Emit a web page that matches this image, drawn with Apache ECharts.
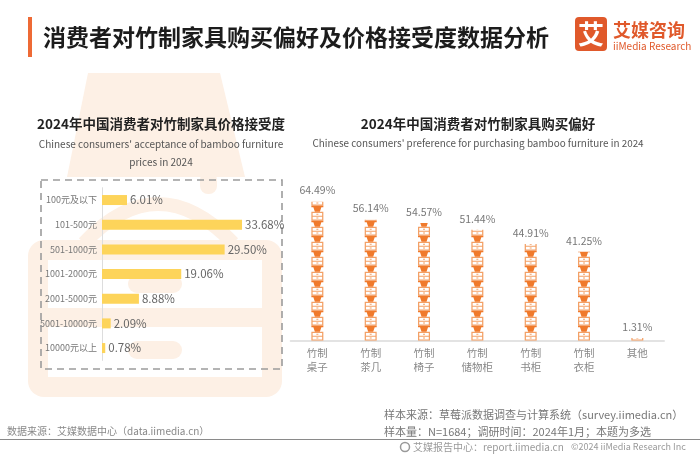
<!DOCTYPE html>
<html><head><meta charset="utf-8">
<script src="https://cdn.jsdelivr.net/npm/echarts@6/dist/echarts.min.js"></script>
<style>html,body{margin:0;padding:0;background:#fff}#c{width:700px;height:455px}</style>
</head><body><div id="c"></div>
<script>
const priceCategories = ['100元及以下','101-500元','501-1000元','1001-2000元','2001-5000元','5001-10000元','10000元以上'];
const priceValues = [6.01, 33.68, 29.50, 19.06, 8.88, 2.09, 0.78];
const furnitureCategories = ['竹制\n桌子','竹制\n茶几','竹制\n椅子','竹制\n储物柜','竹制\n书柜','竹制\n衣柜','其他'];
const furnitureValues = [64.49, 56.14, 54.57, 51.44, 44.91, 41.25, 1.31];

const FONT = '"Noto Sans CJK SC", "Noto Sans", sans-serif';
const peach = '#fdf0e5';
const pct = p => Number(p.value).toFixed(2) + '%';
const Y_MAX = 83.53;

const filledPath = 'path://M2,0L26,0L26,3L22,3L19,12L9,12L6,3L2,3Z M2,29.98L2.02,29.98L2.02,30L2,30Z';
const boxPath = 'path://M2,12L26,12L26,30L2,30Z M4.5,14.5L4.5,20L23.5,20L23.5,14.5Z M4.5,22L4.5,27.5L23.5,27.5L23.5,22Z M12,16.3L16,16.3L16,18.2L12,18.2Z M12,23.8L16,23.8L16,25.7L12,25.7Z M2,0L2.02,0L2.02,0.02L2,0.02Z';

function txt(text, x, y, size, color, opts) {
  opts = opts || {};
  return {type: 'text', z: 5, style: {text: text, x: x, y: y, fill: color,
    font: (opts.bold ? 'bold ' : '') + size + 'px ' + FONT,
    textAlign: opts.align || 'left', textVerticalAlign: 'middle'}};
}

const chart = echarts.init(document.getElementById('c'), null, {renderer: 'canvas'});
chart.setOption({
  backgroundColor: '#fff',
  animation: false,
  textStyle: {fontFamily: FONT},
  graphic: [
    // decorative background
    {type: 'polygon', z: 0, shape: {points: [[88,73],[220,73],[245,177],[67,177]]}, style: {fill: peach}},
    {type: 'rect', z: 0, shape: {x: 200, y: 172, width: 17, height: 22, r: 8}, style: {fill: peach}},
    {type: 'bezierCurve', z: 0, shape: {x1: 84, y1: 243, x2: 233, y2: 243, cpx1: 158, cpy1: 165}, style: {fill: null, stroke: peach, lineWidth: 14}},
    {type: 'rect', z: 0, shape: {x: 28, y: 240, width: 254, height: 157, r: 16}, style: {fill: peach}},
    {type: 'rect', z: 0, shape: {x: 48, y: 260, width: 214, height: 117}, style: {fill: '#fff'}},
    {type: 'rect', z: 0, shape: {x: 48, y: 308, width: 214, height: 19}, style: {fill: peach}},
    {type: 'rect', z: 0, shape: {x: 128, y: 275, width: 54, height: 18, r: 9}, style: {fill: peach}},
    {type: 'rect', z: 0, shape: {x: 128, y: 341, width: 54, height: 18, r: 9}, style: {fill: peach}},
    {type: 'rect', z: 1, shape: {x: 41, y: 180, width: 241, height: 189}, style: {fill: null, stroke: '#9c9c9c', lineWidth: 1.6, lineDash: [7, 5]}},
    // header
    {type: 'rect', z: 5, shape: {x: 28, y: 17, width: 4, height: 40}, style: {fill: '#ee6a35'}},
    txt('消费者对竹制家具购买偏好及价格接受度数据分析', 43, 37, 23, '#1c1c1c', {bold: true}),
    {type: 'rect', z: 5, shape: {x: 575, y: 17, width: 32, height: 34, r: 4}, style: {fill: '#e0592b'}},
    txt('艾', 591, 34, 26, '#fff', {bold: true, align: 'center'}),
    txt('艾媒咨询', 613, 30, 18, '#e0592b', {bold: true}),
    txt('iiMedia Research', 613, 46, 10, '#e0592b'),
    // chart titles
    txt('2024年中国消费者对竹制家具价格接受度', 161, 124, 13.5, '#222', {bold: true, align: 'center'}),
    txt("Chinese consumers' acceptance of bamboo furniture", 161, 144, 10, '#555', {align: 'center'}),
    txt('prices in 2024', 161, 162, 10, '#555', {align: 'center'}),
    txt('2024年中国消费者对竹制家具购买偏好', 478, 124, 13.5, '#222', {bold: true, align: 'center'}),
    txt("Chinese consumers' preference for purchasing bamboo furniture in 2024", 478, 143, 9.9, '#555', {align: 'center'}),
    // footer
    txt('数据来源：艾媒数据中心（data.iimedia.cn）', 7, 431, 10, '#888'),
    txt('样本来源：草莓派数据调查与计算系统（survey.iimedia.cn）', 384, 415, 11, '#777'),
    txt('样本量：N=1684；调研时间：2024年1月；本题为多选', 384, 432, 11, '#777'),
    {type: 'line', z: 5, shape: {x1: 0, y1: 439.5, x2: 700, y2: 439.5}, style: {stroke: '#8a8a8a', lineWidth: 1}},
    {type: 'circle', z: 5, shape: {cx: 405, cy: 447, r: 4.5}, style: {fill: null, stroke: '#999', lineWidth: 1.5}},
    txt('艾媒报告中心：report.iimedia.cn', 413, 447, 10, '#999'),
    txt('©2024 iiMedia Research Inc', 571, 447, 9, '#999')
  ],
  grid: [
    {left: 102, top: 187.7, width: 166.3, height: 172.7},
    {left: 290.7, top: 160.7, width: 373.3, height: 180}
  ],
  xAxis: [
    {gridIndex: 0, type: 'value', min: 0, max: 40, show: false},
    {gridIndex: 1, type: 'category', data: furnitureCategories,
     axisLine: {lineStyle: {color: '#e3e3e3', width: 2}}, axisTick: {show: false},
     axisLabel: {color: '#888', fontSize: 10.5, lineHeight: 13.5, margin: 6, interval: 0}}
  ],
  yAxis: [
    {gridIndex: 0, type: 'category', data: priceCategories, inverse: true,
     axisLine: {lineStyle: {color: '#ddd', width: 1}}, axisTick: {show: false},
     axisLabel: {color: '#777', fontSize: 9, margin: 5}},
    {gridIndex: 1, type: 'value', min: 0, max: Y_MAX, show: false, splitLine: {show: false}}
  ],
  series: [
    {type: 'bar', xAxisIndex: 0, yAxisIndex: 0, data: priceValues, barWidth: 10, z: 3,
     itemStyle: {color: '#fdd45a'},
     label: {show: true, position: 'right', distance: 3, color: '#666', fontSize: 11.5, formatter: pct}},
    {type: 'pictorialBar', xAxisIndex: 1, yAxisIndex: 1, data: furnitureValues, z: 3,
     symbol: boxPath, symbolSize: [12, 15], symbolRepeat: true, symbolClip: true,
     symbolBoundingData: Y_MAX, symbolMargin: 0, itemStyle: {color: '#f3a066'}},
    {type: 'pictorialBar', xAxisIndex: 1, yAxisIndex: 1, data: furnitureValues, z: 4,
     symbol: filledPath, symbolSize: [12, 15], symbolRepeat: true, symbolClip: true,
     symbolBoundingData: Y_MAX, symbolMargin: 0, itemStyle: {color: '#f07a2c'}},
    {type: 'bar', xAxisIndex: 1, yAxisIndex: 1, data: furnitureValues, z: 5, barWidth: 12,
     itemStyle: {color: 'rgba(0,0,0,0)'}, silent: true,
     label: {show: true, position: 'top', distance: 6, color: '#777', fontSize: 10.5, formatter: pct}}
  ]
});
</script></body></html>
